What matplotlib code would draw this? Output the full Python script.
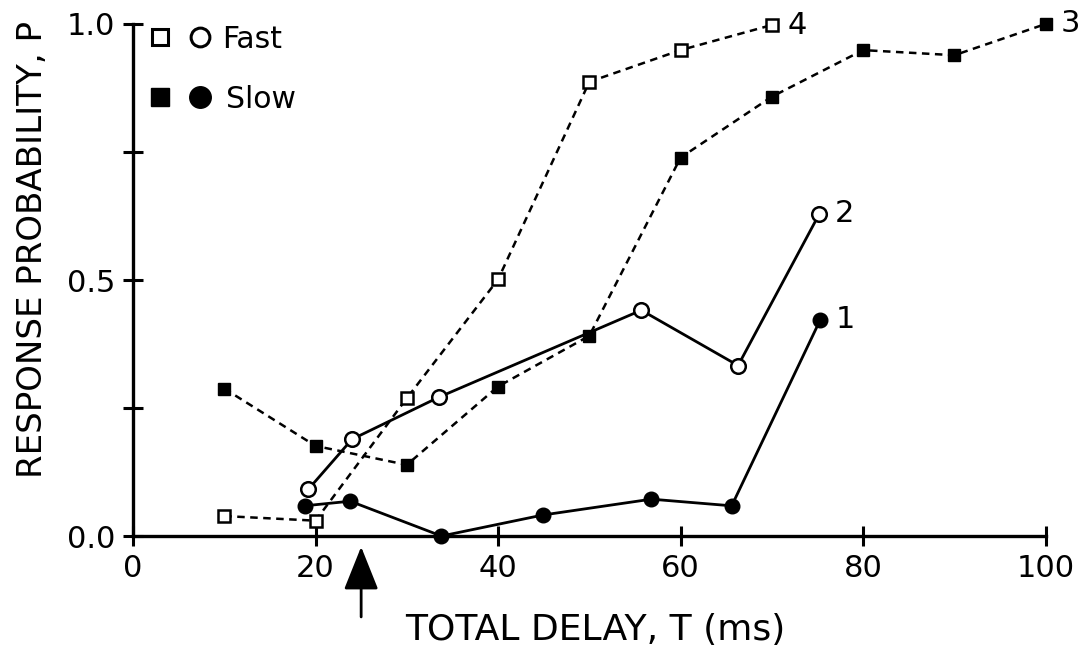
import matplotlib
matplotlib.use("Agg")
import matplotlib.pyplot as plt

# Curve 1: slow, circles (solid line)
t1 = [18.8, 23.8, 33.8, 44.9, 56.8, 65.6, 75.3]
p1 = [0.059, 0.068, 0.0, 0.041, 0.072, 0.059, 0.422]
# Curve 2: fast, circles (solid line)
t2 = [19.2, 24.0, 33.5, 55.7, 66.3, 75.2]
p2 = [0.091, 0.189, 0.271, 0.441, 0.333, 0.629]
# Curve 3: slow, squares (dashed line)
t3 = [10, 20, 30, 40, 50, 60, 70, 80, 90, 100]
p3 = [0.288, 0.176, 0.139, 0.292, 0.391, 0.739, 0.858, 0.949, 0.939, 1.0]
# Curve 4: fast, squares (dashed line)
t4 = [10, 20, 30, 40, 50, 60, 70]
p4 = [0.039, 0.030, 0.269, 0.501, 0.887, 0.949, 0.998]

curve_labels = ["1", "2", "3", "4"]
arrow_t = 25

x_ticks = [0, 20, 40, 60, 80, 100]
y_ticks = [0.0, 0.25, 0.5, 0.75, 1.0]
y_ticklabels = ["0.0", "", "0.5", "", "1.0"]

plt.rcParams["font.family"] = ["DejaVu Sans"]

fig = plt.figure(figsize=(10.82, 6.59), dpi=100)
ax = fig.add_axes([0.1229, 0.1866, 0.8435, 0.777])

dash = (3.0, 2.2)
lw = 1.8
ax.plot(t4, p4, color="black", lw=lw, ls="--", dashes=dash, marker="s", ms=9,
        mfc="white", mec="black", mew=1.8, clip_on=False, zorder=3)
ax.plot(t3, p3, color="black", lw=lw, ls="--", dashes=dash, marker="s", ms=8.5,
        mfc="black", mec="black", clip_on=False, zorder=3)
ax.plot(t2, p2, color="black", lw=2.0, marker="o", ms=10.5,
        mfc="white", mec="black", mew=1.8, clip_on=False, zorder=4)
ax.plot(t1, p1, color="black", lw=2.0, marker="o", ms=10.5,
        mfc="black", mec="black", clip_on=False, zorder=4)

# curve numbers at the last point of each curve
for lab, t, p in zip(curve_labels, [t1, t2, t3, t4], [p1, p2, p3, p4]):
    ax.annotate(lab, xy=(t[-1], p[-1]), xytext=(11, 0), textcoords="offset points",
                ha="left", va="center", fontsize=22, annotation_clip=False)

# key in the upper left corner
ax.plot([0.0296], [0.975], marker="s", ms=11, mfc="white", mec="black", mew=2.2,
        transform=ax.transAxes, clip_on=False)
ax.plot([0.0734], [0.975], marker="o", ms=13.5, mfc="white", mec="black", mew=2.2,
        transform=ax.transAxes, clip_on=False)
ax.plot([0.0296], [0.858], marker="s", ms=13.5, color="black",
        transform=ax.transAxes, clip_on=False)
ax.plot([0.0734], [0.858], marker="o", ms=15.5, color="black",
        transform=ax.transAxes, clip_on=False)
ax.text(0.0975, 0.969, "Fast", transform=ax.transAxes, fontsize=21.5,
        ha="left", va="center")
ax.text(0.102, 0.852, "Slow", transform=ax.transAxes, fontsize=21.5,
        ha="left", va="center")

# arrow under the time axis
ax.annotate("", xy=(arrow_t, -0.021), xytext=(arrow_t, -0.158),
            xycoords=ax.get_xaxis_transform(), textcoords=ax.get_xaxis_transform(),
            arrowprops=dict(arrowstyle="-|>,head_length=1.0,head_width=0.4",
                            mutation_scale=27, color="black", lw=2.0,
                            shrinkA=0, shrinkB=0),
            annotation_clip=False)

ax.set_xlim(0, 100)
ax.set_ylim(0, 1.0)
ax.set_xticks(x_ticks)
ax.set_yticks(y_ticks)
ax.set_yticklabels(y_ticklabels)
ax.tick_params(direction="inout", length=14, width=2.2, labelsize=22, pad=6)
for side in ("top", "right"):
    ax.spines[side].set_visible(False)
for side in ("left", "bottom"):
    ax.spines[side].set_linewidth(2.4)

ax.set_xlabel("TOTAL DELAY, T (ms)", fontsize=26)
ax.set_ylabel("RESPONSE PROBABILITY, P", fontsize=24.5)
ax.xaxis.set_label_coords(0.506, -0.150)
ax.yaxis.set_label_coords(-0.092, 0.56)

fig.savefig("out.png", dpi=100)
